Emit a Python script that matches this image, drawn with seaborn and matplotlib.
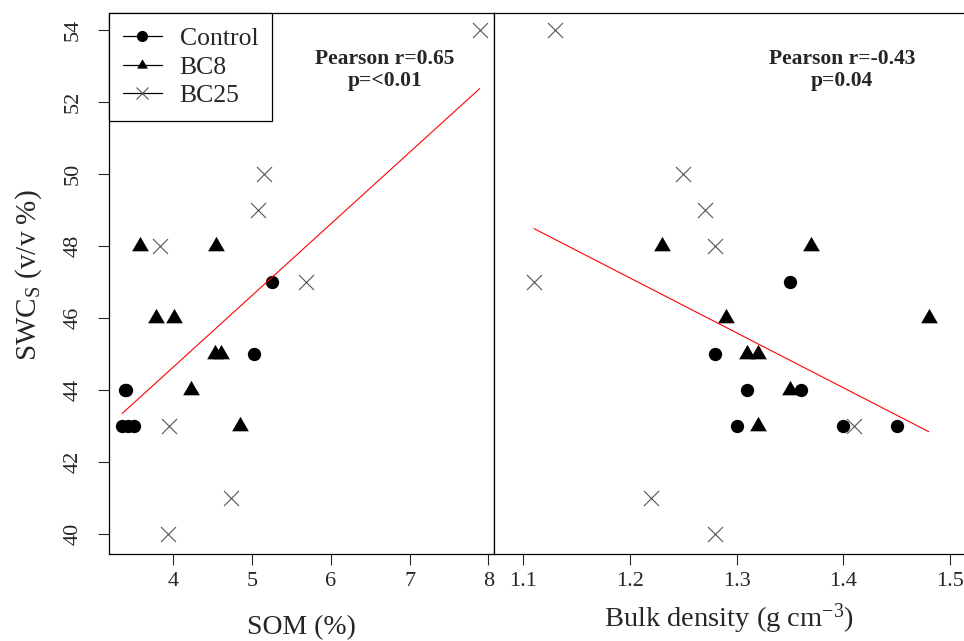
import numpy as np
import pandas as pd
import matplotlib
matplotlib.use("Agg")
import matplotlib.pyplot as plt
from matplotlib.lines import Line2D
import seaborn as sns

# SWC_S (v/v %) per group, with the matching SOM (%) and bulk density values
control_swc = [47, 45, 44, 44, 43, 43, 43]
control_som = [5.25, 5.02, 3.38, 3.40, 3.35, 3.42, 3.50]
control_bd = [1.35, 1.28, 1.31, 1.36, 1.30, 1.40, 1.45]

bc8_swc = [48, 48, 46, 46, 45, 45, 44, 43]
bc8_som = [3.57, 4.54, 3.78, 4.01, 4.53, 4.60, 4.22, 4.84]
bc8_bd = [1.23, 1.37, 1.29, 1.48, 1.31, 1.32, 1.35, 1.32]

bc25_swc = [54, 50, 49, 48, 47, 43, 41, 40]
bc25_som = [7.89, 5.15, 5.08, 3.83, 5.69, 3.95, 4.73, 3.93]
bc25_bd = [1.13, 1.25, 1.27, 1.28, 1.11, 1.41, 1.22, 1.28]

groups = ["Control", "BC8", "BC25"]
som_ticks = [4, 5, 6, 7, 8]
bd_ticks = [1.1, 1.2, 1.3, 1.4, 1.5]
swc_ticks = [40, 42, 44, 46, 48, 50, 52, 54]
stats_som = "Pearson r=0.65\np=<0.01"
stats_bd = "Pearson r=-0.43\np=0.04"

df = pd.DataFrame({
    "group": ["Control"] * len(control_swc) + ["BC8"] * len(bc8_swc) + ["BC25"] * len(bc25_swc),
    "SWC": control_swc + bc8_swc + bc25_swc,
    "SOM": control_som + bc8_som + bc25_som,
    "BD": control_bd + bc8_bd + bc25_bd,
})

sns.set_style("ticks")
plt.rcParams["font.family"] = ["Liberation Serif", "DejaVu Serif"]
plt.rcParams["mathtext.fontset"] = "custom"
plt.rcParams["mathtext.rm"] = "Liberation Serif"
plt.rcParams["mathtext.it"] = "Liberation Serif:italic"

# equilateral triangle, like R's pch 17
tri = [(0, 1), (-0.866, -0.5), (0.866, -0.5)]
styles = {
    "Control": dict(marker="o", s=92, color="black", linewidth=0),
    "BC8": dict(marker=tri, s=193, color="black", linewidth=0),
    "BC25": dict(marker="x", s=117, color="#555555", linewidth=0.8),
}

fig = plt.figure(figsize=(9.64, 6.41), dpi=100)
ax1 = fig.add_axes([0.1131, 0.1353, 0.3994, 0.844])
ax2 = fig.add_axes([0.5124, 0.1353, 0.4876, 0.844])

for ax, xcol in [(ax1, "SOM"), (ax2, "BD")]:
    for g in groups:
        sub = df[df["group"] == g]
        sns.scatterplot(data=sub, x=xcol, y="SWC", ax=ax, legend=False, **styles[g])
    sns.regplot(data=df, x=xcol, y="SWC", ax=ax, scatter=False, ci=None,
                truncate=True, color="red", line_kws={"linewidth": 0.8})
    ax.set_ylim(39.44, 54.47)
    ax.set_yticks(swc_ticks)
    ax.tick_params(axis="x", length=8, width=0.8, pad=5, labelsize=16)
    for sp in ax.spines.values():
        sp.set_linewidth(0.9)
        sp.set_color("black")

ax1.set_xlim(3.183, 8.072)
ax1.set_xticks(som_ticks)
ax1.set_xticklabels([str(t) for t in som_ticks])
ax1.tick_params(axis="y", length=8, width=0.8, pad=11, labelsize=16, labelrotation=90)
for lab in ax1.get_yticklabels():
    lab.set_va("center")
ax1.set_xlabel("SOM (%)", fontsize=20)
ax1.xaxis.set_label_coords(0.5, -0.112)
ax1.set_ylabel("SWC$_\\mathrm{S}$ (v/v %)", fontsize=21)
ax1.yaxis.set_label_coords(-0.17, 0.516)

ax2.set_xlim(1.0725, 1.5131)
ax2.set_xticks(bd_ticks)
ax2.set_xticklabels([f"{t:.1f}" for t in bd_ticks])
ax2.tick_params(axis="y", left=False, labelleft=False)
ax2.spines["right"].set_visible(False)
ax2.set_xlabel("Bulk density (g cm$^{-3}$)", fontsize=20.5)
ax2.xaxis.set_label_coords(0.5, -0.088)
ax2.set_ylabel("")

ax1.text(0.717, 0.895, stats_som, transform=ax1.transAxes, ha="center", va="center",
         fontsize=15.5, fontweight="bold", linespacing=1.15)
ax2.text(0.74, 0.895, stats_bd, transform=ax2.transAxes, ha="center", va="center",
         fontsize=15.5, fontweight="bold", linespacing=1.15)

handles = [
    Line2D([0], [0], color="black", lw=0.9, marker="o", ms=7, mfc="black", mec="black"),
    Line2D([0], [0], color="black", lw=0.9, marker=tri, ms=9, mfc="black", mec="black", mew=0),
    Line2D([0], [0], color="black", lw=0.9, marker="x", ms=8, mec="#555555", mew=0.8),
]
leg = ax1.legend(handles, groups, loc="upper left", bbox_to_anchor=(0, 1),
                 borderaxespad=0, fancybox=False, framealpha=1, edgecolor="black",
                 fontsize=18.5, handlelength=1.5, handletextpad=0.7,
                 labelspacing=0.2, borderpad=0.55)
leg.get_frame().set_linewidth(0.9)

plt.savefig("out.png", dpi=100)
